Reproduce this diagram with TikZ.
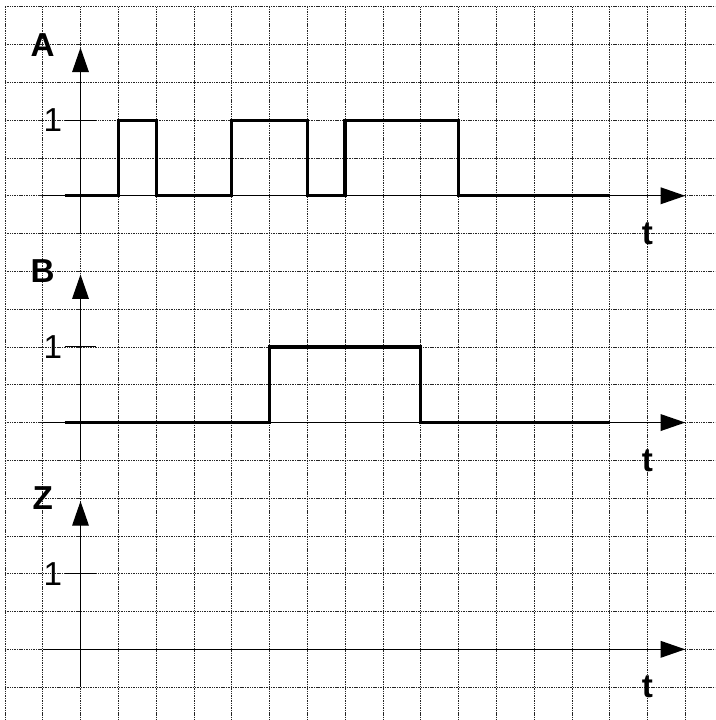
\documentclass[tikz,border=0pt]{standalone}
\usepackage{fontspec}
\setmainfont{Liberation Sans}
\usetikzlibrary{arrows.meta}

\begin{document}
\begin{tikzpicture}[
  x=1cm, y=-1cm,
  gridline/.style={black!85, line width=0.5pt, dash pattern=on 0.8pt off 0.5pt},
  axis/.style={line width=1pt, -{Triangle[length=0.65cm, width=0.44cm]}},
  tickline/.style={line width=0.8pt},
  signal/.style={line width=2.4pt, line join=miter},
  chname/.style={font=\fontsize{25}{25}\selectfont\bfseries},
  level/.style={font=\fontsize{25}{25}\selectfont},
]
\useasboundingbox (-0.13,-0.18) rectangle (18.79,18.87);
\clip (-0.13,-0.18) rectangle (18.79,18.87);

% Grid paper
\draw[gridline] (0,0) grid (19,19);

% Signals
\draw[signal] (1.58,5) -- (3,5) -- (3,3) -- (4,3) -- (4,5) -- (6,5) -- (6,3)
  -- (8,3) -- (8,5) -- (9,5) -- (9,3) -- (12,3) -- (12,5) -- (16,5);
\draw[signal] (1.58,11) -- (7,11) -- (7,9) -- (11,9) -- (11,11) -- (16,11);

% Axes and labels
\foreach \o/\ch in {0/A,6/B,12/Z} {
  \draw[axis] (2,\o+6) -- (2,\o+1.08);
  \draw[axis] (1,\o+5) -- (18,\o+5);
  \draw[tickline] (1.58,\o+3) -- (2.42,\o+3);
  \node[chname] (name-\ch) at (1,\o+1) {\ch};
  \node[level] (one-\ch) at (1.27,\o+3) {1};
  \node[chname] (t-\ch) at (17,\o+6) {t};
}

\end{tikzpicture}
\end{document}
